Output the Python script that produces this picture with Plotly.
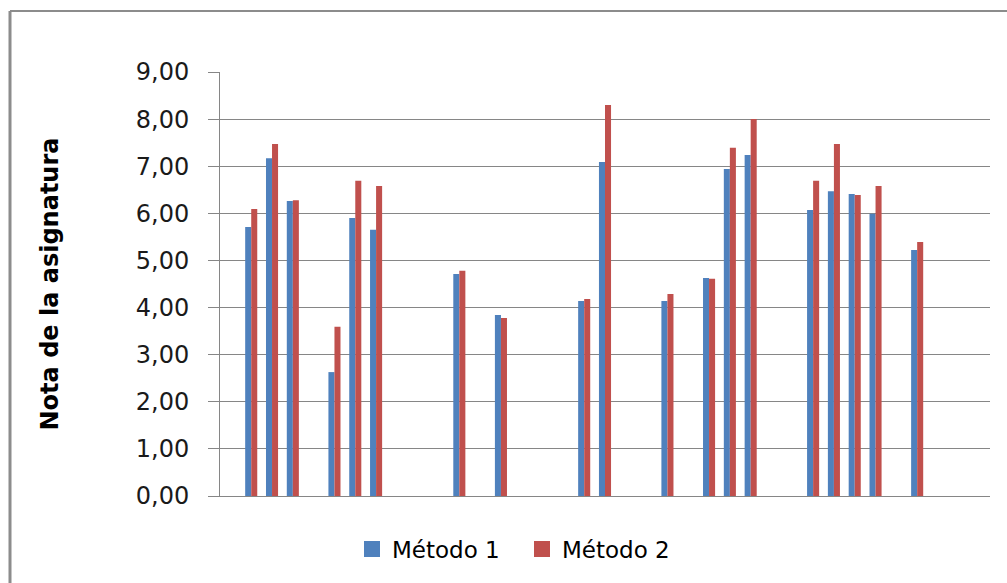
import plotly.graph_objects as go

# Category slots along the x axis (many are empty)
categorias = [f"C{i}" for i in range(37)]

metodo_1 = [None, 5.71, 7.17, 6.26, None, 2.63, 5.90, 5.65, None, None, None,
            4.71, None, 3.84, None, None, None, 4.14, 7.09, None, None,
            4.14, None, 4.63, 6.94, 7.24, None, None, 6.07, 6.47, 6.41,
            5.99, None, 5.22, None, None, None]
metodo_2 = [None, 6.09, 7.47, 6.28, None, 3.59, 6.69, 6.58, None, None, None,
            4.78, None, 3.78, None, None, None, 4.18, 8.30, None, None,
            4.29, None, 4.61, 7.39, 8.00, None, None, 6.69, 7.47, 6.39,
            6.58, None, 5.39, None, None, None]

y_ticks = [0, 1, 2, 3, 4, 5, 6, 7, 8, 9]
series = ["Método 1", "Método 2"]

AZUL = "#4F81BD"
ROJO = "#C0504D"
GRIS = "#868686"

W, H = 1007, 583
L, R, T, B = 220, 17, 72, 87
pw, ph = W - L - R, H - T - B

fig = go.Figure()
for nombre, valores, color in zip(series, [metodo_1, metodo_2], [AZUL, ROJO]):
    fig.add_trace(go.Bar(x=categorias, y=valores, name=nombre, showlegend=False,
                         marker=dict(color=color, line=dict(width=0))))

# Legend entries with larger square swatches
for nombre, color in zip(series, [AZUL, ROJO]):
    fig.add_trace(go.Scatter(x=[None], y=[None], mode="markers", name=nombre,
                             marker=dict(symbol="square", size=16, color=color),
                             showlegend=True))


def px_x(p):
    return (p - L) / pw


def px_y(p):
    return (H - B - p) / ph


# Outer chart frame (left and top edges)
fig.add_shape(type="line", xref="paper", yref="paper",
              x0=px_x(10), x1=px_x(10), y0=px_y(11), y1=px_y(600),
              line=dict(color="#8c8c8c", width=3))
fig.add_shape(type="line", xref="paper", yref="paper",
              x0=px_x(10), x1=px_x(1010), y0=px_y(11), y1=px_y(11),
              line=dict(color="#8c8c8c", width=2))

fig.update_layout(
    width=W, height=H,
    margin=dict(l=L, r=R, t=T, b=B, pad=0),
    paper_bgcolor="white", plot_bgcolor="white",
    barmode="group", bargap=0.42, bargroupgap=0,
    separators=",.",
    font=dict(family="DejaVu Sans", color="#1a1a1a"),
    showlegend=True,
    legend=dict(orientation="h", x=px_x(352), xanchor="left",
                y=px_y(549), yanchor="middle",
                entrywidth=125, entrywidthmode="pixels",
                font=dict(size=23, color="#000000"),
                bgcolor="rgba(0,0,0,0)", itemsizing="trace"),
    xaxis=dict(showticklabels=False, showgrid=False, ticks="",
               showline=True, linecolor=GRIS, linewidth=1,
               zeroline=False, fixedrange=True),
    yaxis=dict(range=[0, 9], tickvals=y_ticks, tickformat=".2f",
               showgrid=True, gridcolor=GRIS, gridwidth=1,
               showline=True, linecolor=GRIS, linewidth=1,
               ticks="outside", ticklen=11, tickcolor=GRIS, tickwidth=1,
               ticklabelstandoff=14,
               tickfont=dict(size=24, family="DejaVu Sans", color="#1a1a1a"),
               zeroline=False,
               title=dict(text="<b>Nota de la asignatura</b>",
                          font=dict(size=24, family="DejaVu Sans", color="#000000"),
                          standoff=70)),
)

fig.write_html("out.html")
